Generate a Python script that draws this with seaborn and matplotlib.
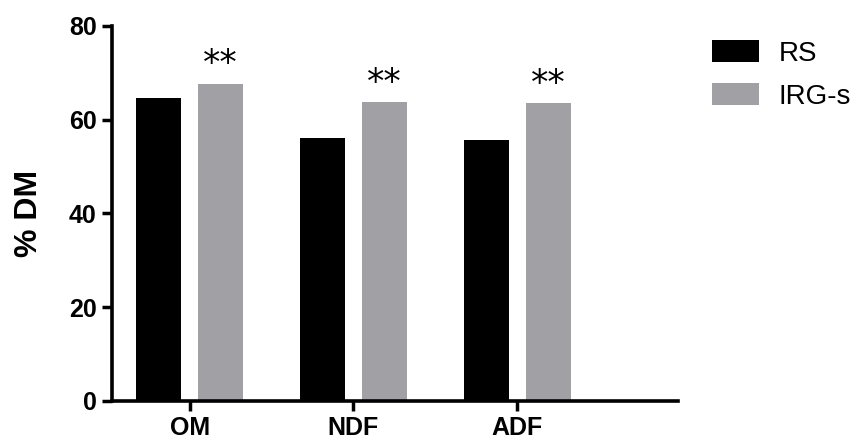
import numpy as np
import pandas as pd
import matplotlib
matplotlib.use('Agg')
import matplotlib.pyplot as plt
import seaborn as sns

# values
fractions = ['OM', 'NDF', 'ADF']
rs_vals = [64.6, 56.0, 55.7]
irg_vals = [67.6, 63.7, 63.5]
groups = ['RS', 'IRG-s']
stars = ['**', '**', '**']

sns.set_style('ticks')
plt.rcParams['font.family'] = ['Liberation Sans', 'DejaVu Sans']
for k in ['text.color', 'axes.labelcolor', 'xtick.color', 'ytick.color', 'axes.edgecolor']:
  plt.rcParams[k] = 'black'

df = pd.DataFrame({
  'fraction': fractions * 2,
  'value': rs_vals + irg_vals,
  'group': [groups[0]] * 3 + [groups[1]] * 3,
})

fig = plt.figure(figsize=(8.6, 4.44), dpi=100)
ax = fig.add_axes([0.130, 0.097, 0.658, 0.8445])

sns.barplot(data=df, x='fraction', y='value', hue='group', ax=ax,
            palette=['#000000', '#a1a1a5'], saturation=1,
            width=0.756, gap=0.275, errorbar=None, linewidth=0)

# significance marks over the IRG-s bars
for bar, s in zip(ax.containers[1], stars):
  ax.annotate(s, (bar.get_x() + bar.get_width() / 2, bar.get_height()),
              xytext=(0, 2), textcoords='offset points',
              ha='center', va='bottom', fontsize=25, family='DejaVu Sans')

ax.set_ylim(0, 80)
ax.set_yticks([0, 20, 40, 60, 80])
ax.set_xlim(-0.476, 2.98)
ax.set_xlabel('')
ax.set_ylabel('% DM', fontsize=23, fontweight='bold', labelpad=18)

for lab in ax.get_xticklabels() + ax.get_yticklabels():
  lab.set_fontweight('bold')
  lab.set_fontsize(18)

ax.tick_params(axis='both', width=2.5, length=7, pad=4)
for side in ['left', 'bottom']:
  ax.spines[side].set_linewidth(2.6)
sns.despine(ax=ax)

handles, labels = ax.get_legend_handles_labels()
ax.legend(handles, labels, loc='upper left', bbox_to_anchor=(0.828, 0.91),
          bbox_transform=fig.transFigure, frameon=False, fontsize=20,
          handlelength=1.7, handleheight=0.85, handletextpad=0.7,
          labelspacing=0.6, borderpad=0, borderaxespad=0)

fig.savefig('out.png', dpi=100)
